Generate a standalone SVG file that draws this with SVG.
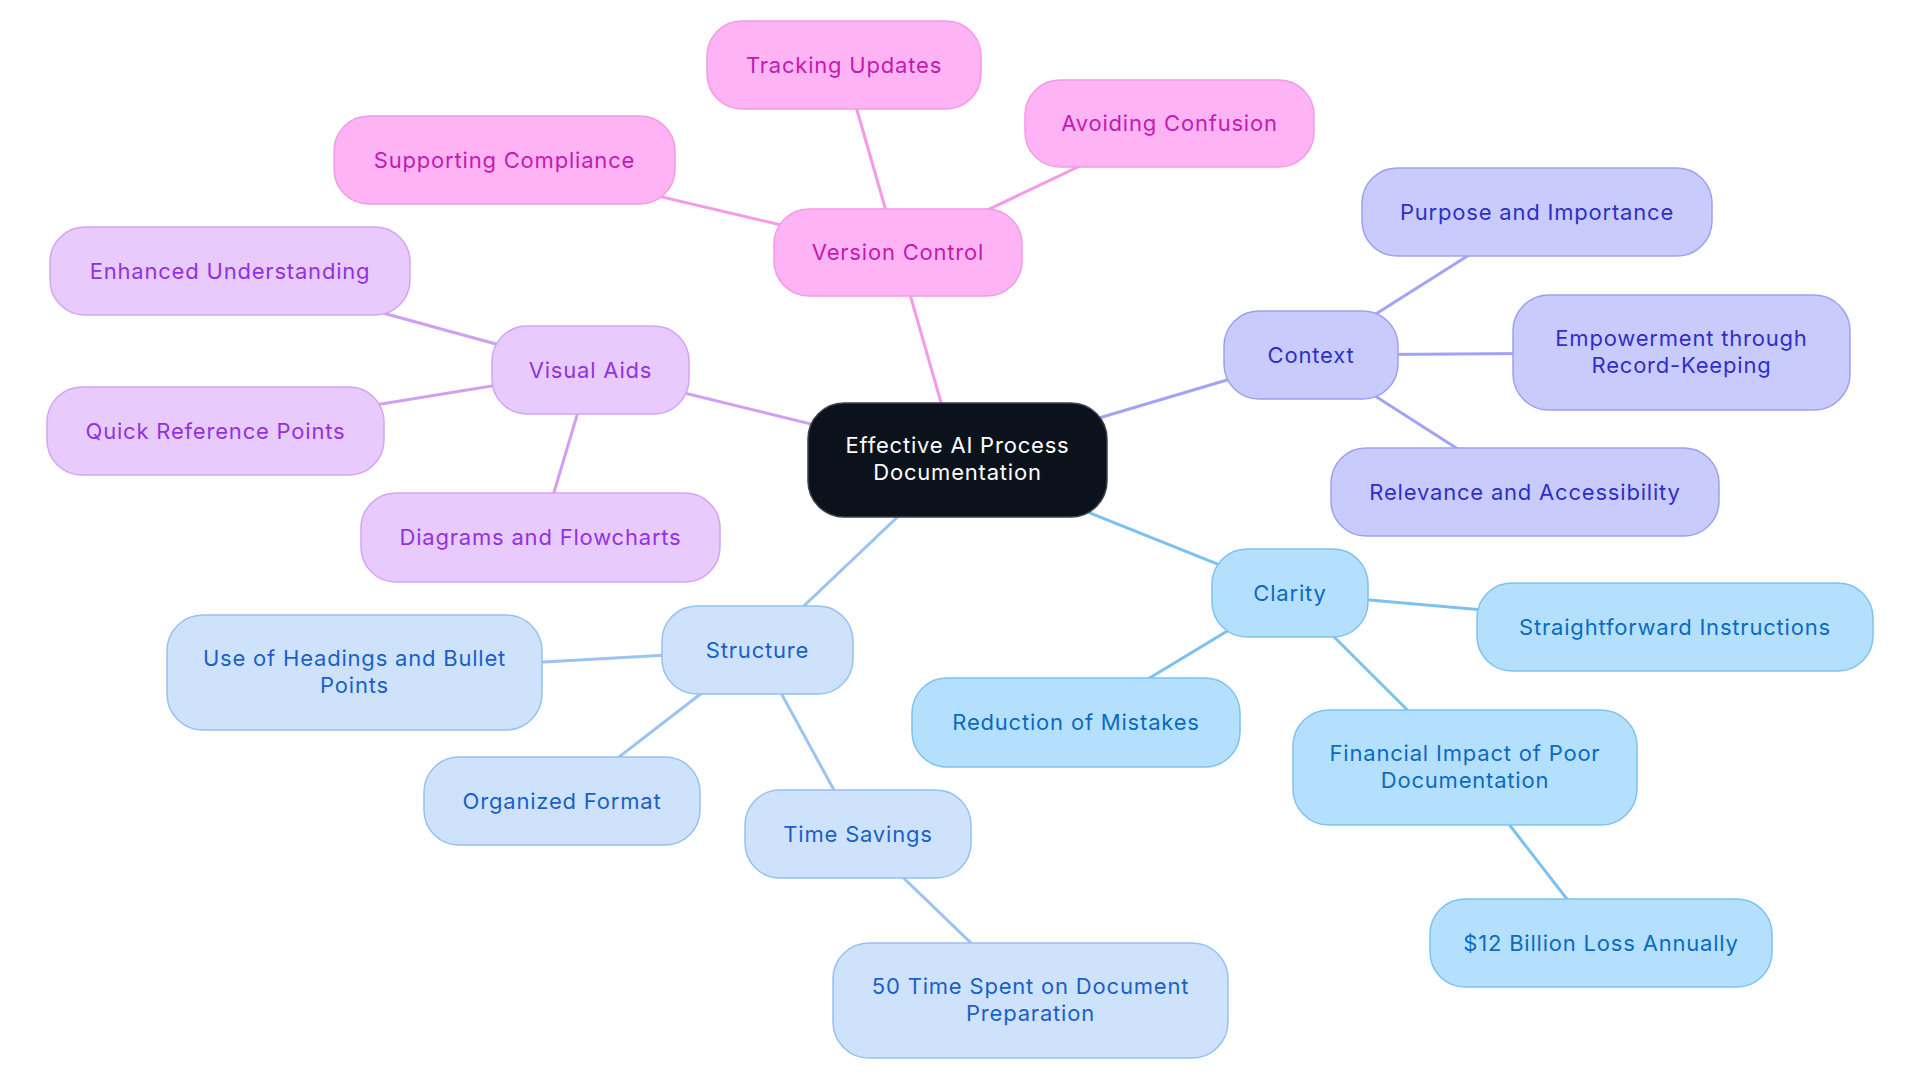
<svg xmlns="http://www.w3.org/2000/svg" width="1920" height="1083" viewBox="0 0 1920 1083">
<style>
  text { font-family: Inter, "Noto Sans", "Liberation Sans", sans-serif; font-size: 22px; letter-spacing: 0.8px; text-anchor: middle; }
  .edge { stroke-width: 3; fill: none; stroke-linecap: round; }
  .node rect { stroke-width: 1.5; }
  .root rect { fill: #0c121b; stroke: #3c424b; }
  .root text { fill: #ffffff; }
  .pk rect { fill: #feb4f4; stroke: #f29be5; } .pk text { fill: #c41aae; }
  .pu rect { fill: #e8cbfc; stroke: #d3a4f4; } .pu text { fill: #9232df; }
  .vi rect { fill: #c9cbfd; stroke: #9ea0ef; } .vi text { fill: #2f2fc6; }
  .sk rect { fill: #b4e0fd; stroke: #7ec2f0; } .sk text { fill: #0b6bbf; }
  .lb rect { fill: #cee3fb; stroke: #95c1f1; } .lb text { fill: #1a60c7; }
  .e-pk { stroke: #f49ae6; } .e-pu { stroke: #cf9ff3; } .e-vi { stroke: #a2a4f3; }
  .e-sk { stroke: #7cc1f0; } .e-lb { stroke: #9bc4f1; }
</style>
<rect width="1920" height="1083" fill="#ffffff"/>
<g id="connectors">
  <line class="edge e-pk" x1="957.5" y1="460" x2="898" y2="252.5"/>
  <line class="edge e-pk" x1="898" y1="252.5" x2="844" y2="65"/>
  <line class="edge e-pk" x1="898" y1="252.5" x2="1169.5" y2="123.5"/>
  <line class="edge e-pk" x1="898" y1="252.5" x2="504.5" y2="160"/>
  <line class="edge e-pu" x1="957.5" y1="460" x2="590.5" y2="370"/>
  <line class="edge e-pu" x1="590.5" y1="370" x2="230" y2="271"/>
  <line class="edge e-pu" x1="590.5" y1="370" x2="215.5" y2="431"/>
  <line class="edge e-pu" x1="590.5" y1="370" x2="540.5" y2="537.5"/>
  <line class="edge e-vi" x1="957.5" y1="460" x2="1311" y2="355"/>
  <line class="edge e-vi" x1="1311" y1="355" x2="1537" y2="212"/>
  <line class="edge e-vi" x1="1311" y1="355" x2="1681.5" y2="352.5"/>
  <line class="edge e-vi" x1="1311" y1="355" x2="1525" y2="492"/>
  <line class="edge e-sk" x1="957.5" y1="460" x2="1290" y2="593"/>
  <line class="edge e-sk" x1="1290" y1="593" x2="1675" y2="627"/>
  <line class="edge e-sk" x1="1290" y1="593" x2="1076" y2="722.5"/>
  <line class="edge e-sk" x1="1290" y1="593" x2="1465" y2="767.5"/>
  <line class="edge e-sk" x1="1465" y1="767.5" x2="1601" y2="943"/>
  <line class="edge e-lb" x1="957.5" y1="460" x2="757.5" y2="650"/>
  <line class="edge e-lb" x1="757.5" y1="650" x2="354.5" y2="672.5"/>
  <line class="edge e-lb" x1="757.5" y1="650" x2="562" y2="801"/>
  <line class="edge e-lb" x1="757.5" y1="650" x2="858" y2="834"/>
  <line class="edge e-lb" x1="858" y1="834" x2="1030.5" y2="1000.5"/>
</g>

<g id="root" class="node root">
  <rect x="808" y="403" width="299" height="114" rx="36"/>
  <text x="957.5" y="453">Effective AI Process</text>
  <text x="957.5" y="480">Documentation</text>
</g>

<g id="version-control" class="node pk">
  <rect x="774" y="209" width="248" height="87" rx="35"/>
  <text x="898" y="260">Version Control</text>
</g>
<g id="tracking-updates" class="node pk">
  <rect x="707" y="21" width="274" height="88" rx="35"/>
  <text x="844" y="72.5">Tracking Updates</text>
</g>
<g id="avoiding-confusion" class="node pk">
  <rect x="1025" y="80" width="289" height="87" rx="35"/>
  <text x="1169.5" y="131">Avoiding Confusion</text>
</g>
<g id="supporting-compliance" class="node pk">
  <rect x="334" y="116" width="341" height="88" rx="35"/>
  <text x="504.5" y="167.5">Supporting Compliance</text>
</g>

<g id="visual-aids" class="node pu">
  <rect x="492" y="326" width="197" height="88" rx="35"/>
  <text x="590.5" y="377.5">Visual Aids</text>
</g>
<g id="enhanced-understanding" class="node pu">
  <rect x="50" y="227" width="360" height="88" rx="35"/>
  <text x="230" y="278.5">Enhanced Understanding</text>
</g>
<g id="quick-reference-points" class="node pu">
  <rect x="47" y="387" width="337" height="88" rx="35"/>
  <text x="215.5" y="438.5">Quick Reference Points</text>
</g>
<g id="diagrams-flowcharts" class="node pu">
  <rect x="361" y="493" width="359" height="89" rx="35"/>
  <text x="540.5" y="545">Diagrams and Flowcharts</text>
</g>

<g id="context" class="node vi">
  <rect x="1224" y="311" width="174" height="88" rx="35"/>
  <text x="1311" y="362.5">Context</text>
</g>
<g id="purpose-importance" class="node vi">
  <rect x="1362" y="168" width="350" height="88" rx="35"/>
  <text x="1537" y="219.5">Purpose and Importance</text>
</g>
<g id="empowerment" class="node vi">
  <rect x="1513" y="295" width="337" height="115" rx="36"/>
  <text x="1681.5" y="346">Empowerment through</text>
  <text x="1681.5" y="373">Record-Keeping</text>
</g>
<g id="relevance-accessibility" class="node vi">
  <rect x="1331" y="448" width="388" height="88" rx="35"/>
  <text x="1525" y="499.5">Relevance and Accessibility</text>
</g>

<g id="clarity" class="node sk">
  <rect x="1212" y="549" width="156" height="88" rx="35"/>
  <text x="1290" y="600.5">Clarity</text>
</g>
<g id="straightforward-instructions" class="node sk">
  <rect x="1477" y="583" width="396" height="88" rx="35"/>
  <text x="1675" y="634.5">Straightforward Instructions</text>
</g>
<g id="reduction-mistakes" class="node sk">
  <rect x="912" y="678" width="328" height="89" rx="35"/>
  <text x="1076" y="730">Reduction of Mistakes</text>
</g>
<g id="financial-impact" class="node sk">
  <rect x="1293" y="710" width="344" height="115" rx="36"/>
  <text x="1465" y="761">Financial Impact of Poor</text>
  <text x="1465" y="788">Documentation</text>
</g>
<g id="billion-loss" class="node sk">
  <rect x="1430" y="899" width="342" height="88" rx="35"/>
  <text x="1601" y="950.5">$12 Billion Loss Annually</text>
</g>

<g id="structure" class="node lb">
  <rect x="662" y="606" width="191" height="88" rx="35"/>
  <text x="757.5" y="657.5">Structure</text>
</g>
<g id="headings-bullets" class="node lb">
  <rect x="167" y="615" width="375" height="115" rx="36"/>
  <text x="354.5" y="666">Use of Headings and Bullet</text>
  <text x="354.5" y="693">Points</text>
</g>
<g id="organized-format" class="node lb">
  <rect x="424" y="757" width="276" height="88" rx="35"/>
  <text x="562" y="808.5">Organized Format</text>
</g>
<g id="time-savings" class="node lb">
  <rect x="745" y="790" width="226" height="88" rx="35"/>
  <text x="858" y="841.5">Time Savings</text>
</g>
<g id="time-spent" class="node lb">
  <rect x="833" y="943" width="395" height="115" rx="36"/>
  <text x="1030.5" y="994">50 Time Spent on Document</text>
  <text x="1030.5" y="1021">Preparation</text>
</g>
</svg>
